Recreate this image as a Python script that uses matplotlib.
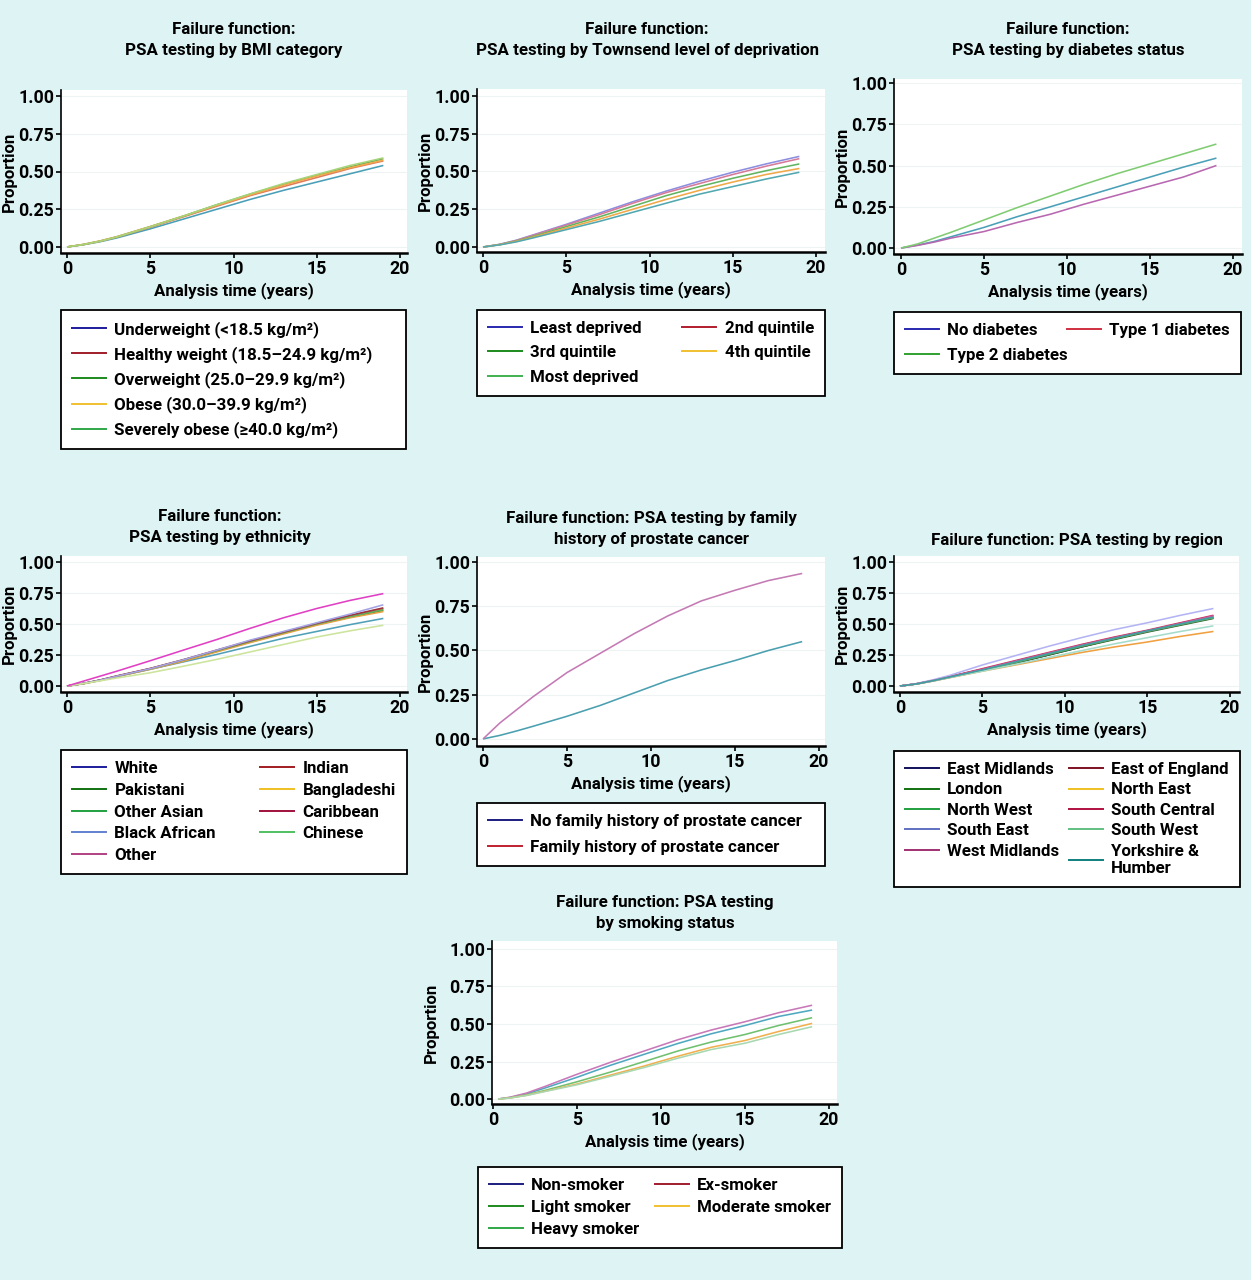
"""Seven failure-function panels (PSA testing by patient characteristic)."""

import matplotlib
matplotlib.use("Agg")
import matplotlib.pyplot as plt
from matplotlib.lines import Line2D

W, H = 1251, 1280
BG = "#ddf3f4"

plt.rcParams["font.family"] = ["Roboto", "DejaVu Sans"]
plt.rcParams["font.weight"] = "bold"

# ---------------------------------------------------------------------------
# Data: proportion tested at each time point
# ---------------------------------------------------------------------------
T = [0, 1, 2, 3, 5, 7, 9, 11, 13, 15, 17, 19]
T_SMOKE = [0.3, 1, 2, 3, 5, 7, 9, 11, 13, 15, 17, 19]

BMI_LABELS = ["Underweight (<18.5 kg/m²)", "Healthy weight (18.5–24.9 kg/m²)",
              "Overweight (25.0–29.9 kg/m²)", "Obese (30.0–39.9 kg/m²)",
              "Severely obese (≥40.0 kg/m²)"]
BMI_CURVES = [
    [0, 0.015, 0.035, 0.060, 0.120, 0.185, 0.250, 0.315, 0.375, 0.430, 0.485, 0.540],
    [0, 0.016, 0.038, 0.065, 0.130, 0.200, 0.270, 0.340, 0.400, 0.460, 0.520, 0.570],
    [0, 0.017, 0.040, 0.068, 0.135, 0.205, 0.280, 0.350, 0.415, 0.475, 0.530, 0.585],
    [0, 0.017, 0.040, 0.068, 0.135, 0.205, 0.275, 0.345, 0.410, 0.470, 0.525, 0.575],
    [0, 0.016, 0.038, 0.066, 0.133, 0.205, 0.280, 0.352, 0.420, 0.480, 0.540, 0.590],
]

DEP_LABELS = ["Least deprived", "2nd quintile", "3rd quintile", "4th quintile",
              "Most deprived"]
DEP_CURVES = [
    [0, 0.018, 0.045, 0.080, 0.150, 0.225, 0.300, 0.370, 0.435, 0.495, 0.550, 0.600],
    [0, 0.017, 0.043, 0.077, 0.145, 0.215, 0.290, 0.360, 0.420, 0.480, 0.535, 0.585],
    [0, 0.016, 0.040, 0.070, 0.135, 0.200, 0.270, 0.340, 0.400, 0.455, 0.505, 0.550],
    [0, 0.015, 0.037, 0.065, 0.125, 0.185, 0.250, 0.315, 0.375, 0.430, 0.480, 0.520],
    [0, 0.014, 0.034, 0.060, 0.115, 0.170, 0.230, 0.290, 0.350, 0.400, 0.450, 0.495],
]

DIAB_LABELS = ["No diabetes", "Type 1 diabetes", "Type 2 diabetes"]
DIAB_CURVES = [
    [0, 0.018, 0.040, 0.068, 0.125, 0.190, 0.250, 0.310, 0.370, 0.430, 0.490, 0.545],
    [0, 0.016, 0.036, 0.060, 0.100, 0.155, 0.205, 0.265, 0.320, 0.375, 0.430, 0.500],
    [0, 0.025, 0.060, 0.095, 0.170, 0.245, 0.315, 0.385, 0.450, 0.510, 0.570, 0.630],
]

ETH_LABELS = ["White", "Indian", "Pakistani", "Bangladeshi", "Other Asian",
              "Caribbean", "Black African", "Chinese", "Other"]
ETH_CURVES = [
    [0, 0.022, 0.048, 0.078, 0.135, 0.195, 0.255, 0.320, 0.385, 0.440, 0.495, 0.545],
    [0, 0.020, 0.048, 0.080, 0.140, 0.210, 0.285, 0.360, 0.430, 0.500, 0.565, 0.625],
    [0, 0.020, 0.046, 0.078, 0.138, 0.205, 0.280, 0.355, 0.425, 0.495, 0.555, 0.610],
    [0, 0.019, 0.045, 0.076, 0.135, 0.200, 0.275, 0.350, 0.420, 0.490, 0.550, 0.600],
    [0, 0.020, 0.047, 0.079, 0.140, 0.210, 0.285, 0.360, 0.430, 0.500, 0.560, 0.615],
    [0, 0.021, 0.049, 0.082, 0.142, 0.213, 0.290, 0.365, 0.435, 0.505, 0.570, 0.630],
    [0, 0.021, 0.048, 0.080, 0.140, 0.212, 0.290, 0.370, 0.440, 0.510, 0.580, 0.655],
    [0, 0.020, 0.042, 0.065, 0.107, 0.160, 0.215, 0.275, 0.335, 0.395, 0.445, 0.490],
    [0, 0.040, 0.080, 0.120, 0.204, 0.290, 0.375, 0.465, 0.550, 0.625, 0.690, 0.745],
]

FAM_LABELS = ["No family history of prostate cancer",
              "Family history of prostate cancer"]
FAM_CURVES = [
    [0, 0.020, 0.045, 0.072, 0.128, 0.190, 0.260, 0.330, 0.390, 0.443, 0.500, 0.550],
    [0, 0.090, 0.165, 0.240, 0.375, 0.485, 0.595, 0.695, 0.780, 0.840, 0.895, 0.935],
]

REG_LABELS = ["East Midlands", "East of England", "London", "North East",
              "North West", "South Central", "South East", "South West",
              "West Midlands", "Yorkshire &\nHumber"]
REG_CURVES = [
    [0, 0.017, 0.042, 0.070, 0.125, 0.185, 0.250, 0.315, 0.380, 0.440, 0.495, 0.550],
    [0, 0.018, 0.045, 0.075, 0.135, 0.200, 0.265, 0.330, 0.390, 0.445, 0.505, 0.565],
    [0, 0.017, 0.042, 0.070, 0.125, 0.185, 0.250, 0.315, 0.375, 0.435, 0.490, 0.545],
    [0, 0.016, 0.040, 0.067, 0.120, 0.170, 0.220, 0.270, 0.315, 0.355, 0.400, 0.440],
    [0, 0.017, 0.043, 0.072, 0.130, 0.190, 0.255, 0.320, 0.380, 0.440, 0.495, 0.550],
    [0, 0.018, 0.045, 0.075, 0.140, 0.205, 0.270, 0.335, 0.395, 0.450, 0.510, 0.570],
    [0, 0.020, 0.050, 0.085, 0.170, 0.245, 0.320, 0.390, 0.455, 0.510, 0.570, 0.625],
    [0, 0.016, 0.040, 0.068, 0.120, 0.175, 0.230, 0.285, 0.340, 0.390, 0.440, 0.485],
    [0, 0.018, 0.044, 0.074, 0.135, 0.200, 0.265, 0.330, 0.390, 0.445, 0.505, 0.565],
    [0, 0.017, 0.043, 0.072, 0.130, 0.195, 0.260, 0.325, 0.385, 0.445, 0.500, 0.555],
]

SMOKE_LABELS = ["Non-smoker", "Ex-smoker", "Light smoker", "Moderate smoker",
                "Heavy smoker"]
SMOKE_CURVES = [
    [0, 0.010, 0.035, 0.070, 0.145, 0.225, 0.298, 0.370, 0.435, 0.490, 0.550, 0.593],
    [0, 0.012, 0.040, 0.080, 0.165, 0.245, 0.320, 0.395, 0.460, 0.515, 0.575, 0.625],
    [0, 0.008, 0.028, 0.055, 0.115, 0.180, 0.250, 0.320, 0.380, 0.430, 0.490, 0.542],
    [0, 0.007, 0.025, 0.050, 0.100, 0.160, 0.220, 0.285, 0.345, 0.390, 0.450, 0.504],
    [0, 0.007, 0.024, 0.048, 0.095, 0.152, 0.210, 0.272, 0.330, 0.372, 0.430, 0.482],
]

# ---------------------------------------------------------------------------
# Colours: the curves look lighter than the legend keys in the original
# ---------------------------------------------------------------------------
BMI_LINE = ["#4a9fb6", "#e07a5a", "#5caa58", "#f0a848", "#a6d47a"]
BMI_KEY = ["#1c1c9c", "#a01c28", "#1c8a1c", "#f0c030", "#30a848"]
DEP_LINE = ["#8c8ee0", "#d77a9a", "#62b460", "#f0a848", "#52a8b0"]
DEP_KEY = ["#2828b0", "#b01c2c", "#1c8a1c", "#f0c030", "#40b050"]
DIAB_LINE = ["#4aa0b8", "#b868b0", "#80cc72"]
DIAB_KEY = ["#2828b0", "#d03040", "#30a030"]
ETH_LINE = ["#50a0b8", "#c07a30", "#4a8a3a", "#e8a040", "#60b060",
            "#a03040", "#a4a4e4", "#cce49c", "#e040c4"]
ETH_KEY = ["#1c1c9c", "#a01c20", "#107010", "#f0c020", "#20a040",
           "#a0103c", "#6080d0", "#50c060", "#b04080"]
FAM_LINE = ["#4a9fb0", "#c47ab4"]
FAM_KEY = ["#1c1c80", "#c02030"]
REG_LINE = ["#303060", "#a03030", "#306030", "#f0a040", "#60b060",
            "#d03060", "#b4b4f4", "#a4dccc", "#c060a0", "#40a0a0"]
REG_KEY = ["#10105a", "#801020", "#107010", "#f0c020", "#20a040",
           "#b01040", "#6070c0", "#60c080", "#a03070", "#108080"]
SMOKE_LINE = ["#50a8c0", "#c878b8", "#70c070", "#f0b050", "#a8d8b0"]
SMOKE_KEY = ["#1c1c80", "#a01c2c", "#1c8a1c", "#f0c030", "#30a848"]

FS = 12.2       # titles, axis labels, legend
FS_TICK = 12.8  # tick labels


def fx(x):
    return x / W


def fy(y):
    return 1 - y / H


def panel(fig, box, xlim, ylim, times, curves, colors, title, title_xy,
          labels, keys, order, ncol, leg_box, labelspacing, ylab_pad=0.5):
    left, right, top, bottom = box
    ax = fig.add_axes([fx(left), fy(bottom), fx(right - left), (bottom - top) / H])
    ax.set_facecolor("white")
    for c, col in zip(curves, colors):
        ax.plot(times, c, color=col, lw=1.15, solid_capstyle="butt")
    ax.set_xlim(*xlim)
    ax.set_ylim(*ylim)
    ax.set_xticks([0, 5, 10, 15, 20])
    ax.set_yticks([0, 0.25, 0.5, 0.75, 1.0])
    ax.set_yticklabels(["0.00", "0.25", "0.50", "0.75", "1.00"])
    ax.grid(axis="y", color="#eef3f3", lw=0.8)
    ax.set_axisbelow(True)
    for s in ("top", "right"):
        ax.spines[s].set_visible(False)
    ax.spines["left"].set_linewidth(1.2)
    ax.spines["bottom"].set_linewidth(1.8)
    ax.tick_params(length=3.5, width=1.2, labelsize=FS_TICK, pad=1.5)
    for lab in ax.get_xticklabels() + ax.get_yticklabels():
        lab.set_fontweight("bold")
    ax.set_xlabel("Analysis time (years)", fontsize=FS, fontweight="bold", labelpad=3)
    ax.set_ylabel("Proportion", fontsize=FS, fontweight="bold", labelpad=ylab_pad)

    fig.text(fx(title_xy[0]), fy(title_xy[1]), title, ha="center", va="center",
             fontsize=FS, fontweight="bold", linespacing=1.45)

    leg_left, leg_right, leg_top = leg_box
    handles = [Line2D([], [], color=keys[i], lw=1.4) for i in order]
    leg = fig.legend(handles, [labels[i] for i in order], loc="upper left",
                     bbox_to_anchor=(fx(leg_left), fy(leg_top),
                                     fx(leg_right - leg_left), 0),
                     mode="expand", ncol=ncol, frameon=True, fancybox=False,
                     edgecolor="black", framealpha=1, borderaxespad=0,
                     handlelength=2.0, handletextpad=0.5, borderpad=0.65,
                     labelspacing=labelspacing, columnspacing=0.8,
                     prop={"size": FS, "weight": "bold"})
    leg.get_frame().set_linewidth(1.3)
    return ax


fig = plt.figure(figsize=(W / 100, H / 100), dpi=100)
fig.patch.set_facecolor(BG)

panel(fig, (61, 407, 90, 253), (-0.36, 20.42), (-0.04, 1.04), T, BMI_CURVES,
      BMI_LINE, "Failure function:\nPSA testing by BMI category", (234, 40),
      BMI_LABELS, BMI_KEY, [0, 1, 2, 3, 4], 1, (61, 406, 310), 0.48)

panel(fig, (477, 825, 89, 252), (-0.36, 20.54), (-0.033, 1.046), T, DEP_CURVES,
      DEP_LINE, "Failure function:\nPSA testing by Townsend level of deprivation",
      (647, 40), DEP_LABELS, DEP_KEY, [0, 2, 4, 1, 3], 2, (477, 825, 310), 0.55)

panel(fig, (894, 1242, 79, 254), (-0.42, 20.54), (-0.036, 1.024), T, DIAB_CURVES,
      DIAB_LINE, "Failure function:\nPSA testing by diabetes status", (1068, 40),
      DIAB_LABELS, DIAB_KEY, [0, 2, 1], 2, (894, 1241, 312), 0.6)

panel(fig, (61, 407, 556, 692), (-0.36, 20.42), (-0.048, 1.048), T, ETH_CURVES,
      ETH_LINE, "Failure function:\nPSA testing by ethnicity", (220, 527),
      ETH_LABELS, ETH_KEY, [0, 2, 4, 6, 8, 1, 3, 5, 7], 2, (61, 407, 750), 0.4)

panel(fig, (477, 825, 557, 746), (-0.36, 20.36), (-0.04, 1.028), T, FAM_CURVES,
      FAM_LINE, "Failure function: PSA testing by family\nhistory of prostate cancer",
      (651, 529), FAM_LABELS, FAM_KEY, [0, 1], 1, (477, 825, 803), 0.65)

panel(fig, (894, 1239, 556, 692), (-0.36, 20.55), (-0.048, 1.048), T, REG_CURVES,
      REG_LINE, "Failure function: PSA testing by region", (1077, 540),
      REG_LABELS, REG_KEY, [0, 2, 4, 6, 8, 1, 3, 5, 7, 9], 2, (894, 1240, 751), 0.32)

panel(fig, (492, 837, 941, 1104), (-0.06, 20.48), (-0.033, 1.053), T_SMOKE,
      SMOKE_CURVES, SMOKE_LINE, "Failure function: PSA testing\nby smoking status",
      (665, 913), SMOKE_LABELS, SMOKE_KEY, [0, 2, 4, 1, 3], 2, (478, 842, 1167), 0.4,
      ylab_pad=7)

fig.savefig("out.png", dpi=100, facecolor=BG)
